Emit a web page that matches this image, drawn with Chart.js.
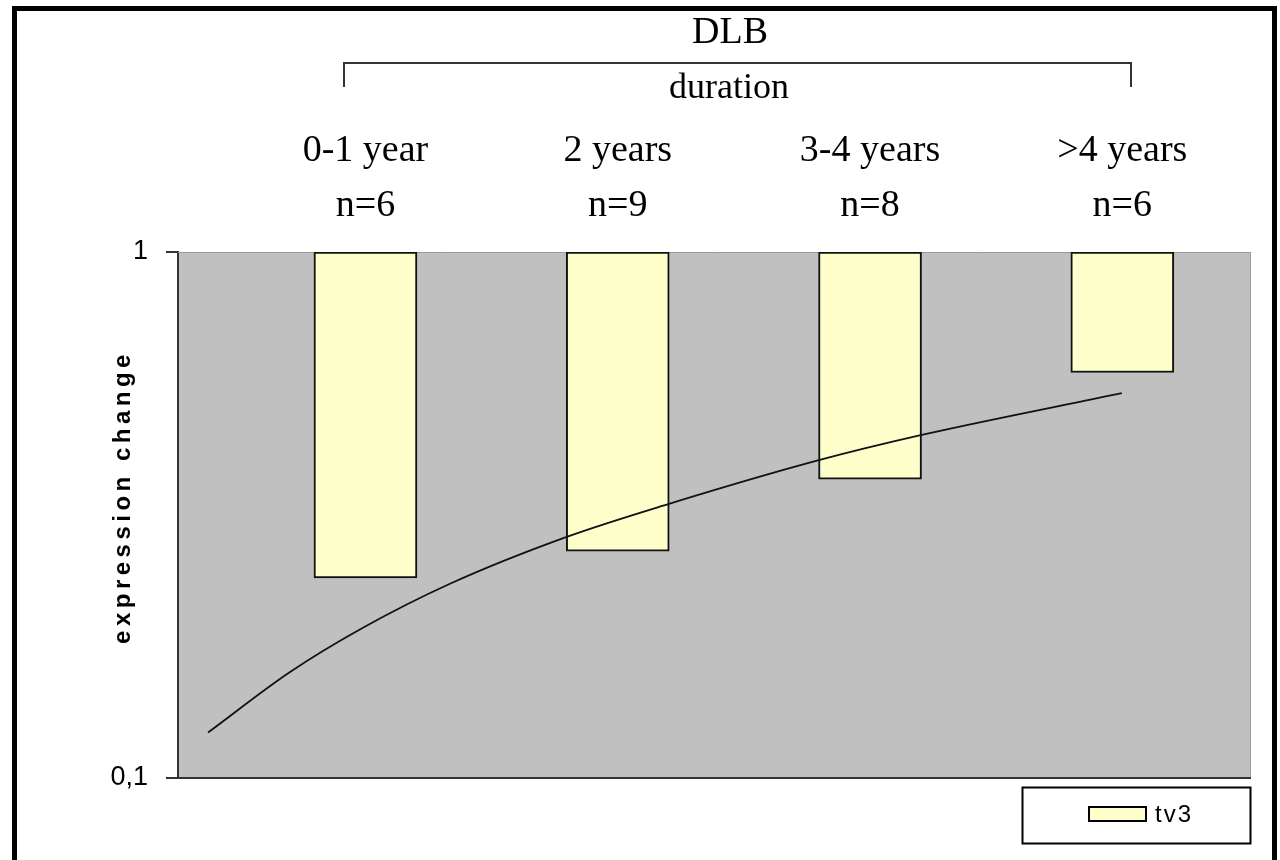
<!DOCTYPE html>
<html>
<head>
<meta charset="utf-8">
<script src="https://cdn.jsdelivr.net/npm/chart.js@4.4.1/dist/chart.umd.min.js"></script>
<style>
  html, body { margin: 0; padding: 0; background: #fff; }
  canvas { display: block; }
</style>
</head>
<body>
<canvas id="c" width="1280" height="860"></canvas>
<script>
// Duration groups and their sample sizes
const categories = ['0-1 year', '2 years', '3-4 years', '>4 years'];
const groupSizes = ['n=6', 'n=9', 'n=8', 'n=6'];

// tv3 expression change per group (bars hang down from 1 on a log axis)
const tv3Values = [0.24, 0.27, 0.37, 0.59];
const barTop = 1;

// Trend curve, sampled along the group axis (1 = first group)
const trendX = [0.376, 0.701, 0.990, 1.335, 1.795, 2.203, 2.797, 3.205, 3.998];
const trendY = [0.122, 0.159, 0.193, 0.234, 0.287, 0.332, 0.402, 0.449, 0.539];

// Value axis ticks
const yTicks = [0.1, 1];
const yTickLabels = ['0,1', '1'];

const seriesName = 'tv3';
const yTitle = 'expression change';
const groupTitle = 'DLB';
const groupSubtitle = 'duration';

const BAR_FILL = '#ffffcc';

const decor = {
  id: 'decor',
  beforeDraw(chart) {
    const { ctx, chartArea: a } = chart;
    ctx.save();
    ctx.fillStyle = '#ffffff';
    ctx.fillRect(0, 0, chart.width, chart.height);
    ctx.fillStyle = '#c0c0c0';
    ctx.fillRect(a.left, a.top, a.right - a.left, a.bottom - a.top);
    ctx.restore();
  },
  beforeDatasetsDraw(chart) {
    const { ctx, chartArea: a } = chart;
    ctx.save();
    ctx.strokeStyle = '#9a9a9a';
    ctx.lineWidth = 1;
    ctx.beginPath();
    ctx.moveTo(a.left, a.top + 0.5);
    ctx.lineTo(a.right - 0.5, a.top + 0.5);
    ctx.lineTo(a.right - 0.5, a.bottom);
    ctx.stroke();
    ctx.restore();
  },
  afterDatasetsDraw(chart) {
    const { ctx, chartArea: a } = chart;
    ctx.save();
    ctx.strokeStyle = '#333';
    ctx.lineWidth = 2;
    ctx.beginPath();
    ctx.moveTo(a.left - 12, a.bottom);
    ctx.lineTo(a.right, a.bottom);
    ctx.stroke();
    ctx.restore();
  },
  afterDraw(chart) {
    const { ctx, chartArea: a } = chart;
    ctx.save();

    // Group heading, bracket and sub-heading
    ctx.fillStyle = '#000';
    ctx.textAlign = 'center';
    ctx.textBaseline = 'middle';
    ctx.font = '38px "Liberation Serif"';
    ctx.fillText(groupTitle, 730, 33);
    ctx.font = '36px "Liberation Serif"';
    ctx.fillText(groupSubtitle, 729, 89);

    ctx.strokeStyle = '#333';
    ctx.lineWidth = 2;
    ctx.beginPath();
    ctx.moveTo(344, 87);
    ctx.lineTo(344, 63);
    ctx.lineTo(1131, 63);
    ctx.lineTo(1131, 87);
    ctx.stroke();

    // Value axis title, spaced letters
    ctx.save();
    ctx.translate(a.left - 55, 497);
    ctx.rotate(-Math.PI / 2);
    ctx.font = 'bold 24px "Liberation Sans"';
    ctx.letterSpacing = '4.5px';
    ctx.fillText(yTitle, 0, 0);
    ctx.restore();

    // Legend box
    const lx = a.right - 229, ly = a.bottom + 9, lw = 228, lh = 56;
    ctx.lineWidth = 2;
    ctx.strokeStyle = '#000';
    ctx.strokeRect(lx + 0.5, ly + 0.5, lw, lh);
    const ds = chart.data.datasets[0];
    ctx.fillStyle = ds.backgroundColor;
    ctx.fillRect(lx + 67, ly + 20, 57, 14);
    ctx.lineWidth = 2;
    ctx.strokeRect(lx + 67, ly + 20, 57, 14);
    ctx.fillStyle = '#000';
    ctx.textAlign = 'left';
    ctx.font = '24px "Liberation Sans"';
    ctx.letterSpacing = '2px';
    ctx.fillText(ds.label, lx + 133, ly + 28);
    ctx.letterSpacing = '0px';

    // Outer frame
    ctx.lineWidth = 5;
    ctx.strokeStyle = '#000';
    ctx.strokeRect(14.5, 8.5, 1260, 900);
    ctx.restore();
  }
};

new Chart(document.getElementById('c'), {
  type: 'bar',
  data: {
    datasets: [
      {
        label: seriesName,
        data: tv3Values.map((v, i) => ({ x: i + 1, y: [v, barTop] })),
        backgroundColor: BAR_FILL,
        borderColor: '#111',
        borderWidth: 2,
        borderSkipped: false,
        barThickness: 103,
        order: 1
      },
      {
        type: 'line',
        label: 'trend',
        data: trendX.map((x, i) => ({ x: x, y: trendY[i] })),
        borderColor: '#111',
        borderWidth: 1.8,
        pointRadius: 0,
        fill: false,
        cubicInterpolationMode: 'monotone',
        order: 0
      }
    ]
  },
  options: {
    responsive: false,
    animation: false,
    devicePixelRatio: 1,
    layout: { padding: { top: 0, left: 0, right: 29, bottom: 82 } },
    plugins: {
      legend: { display: false },
      tooltip: { enabled: false },
      title: { display: false }
    },
    scales: {
      x: {
        type: 'linear',
        position: 'top',
        min: 0.257,
        max: 4.51,
        offset: false,
        afterBuildTicks: s => { s.ticks = categories.map((c, i) => ({ value: i + 1 })); },
        afterFit: s => { s.height = 252; },
        grid: { display: false, drawTicks: false },
        border: { display: false },
        ticks: {
          padding: 18,
          autoSkip: false,
          maxRotation: 0,
          color: '#000',
          font: { family: '"Liberation Serif"', size: 38, lineHeight: 1.45 },
          callback: (v, i) => [categories[i], groupSizes[i]]
        }
      },
      y: {
        type: 'logarithmic',
        min: 0.1,
        max: 1,
        afterBuildTicks: s => { s.ticks = yTicks.map(v => ({ value: v })); },
        afterFit: s => { s.width = 178; },
        grid: { drawOnChartArea: false, drawTicks: true, tickLength: 12, color: '#333', lineWidth: 2 },
        border: { display: true, color: '#333', width: 2 },
        ticks: {
          padding: 18,
          color: '#000',
          font: { family: '"Liberation Sans"', size: 27 },
          callback: (v, i) => yTickLabels[i]
        }
      }
    }
  },
  plugins: [decor]
});
</script>
</body>
</html>
